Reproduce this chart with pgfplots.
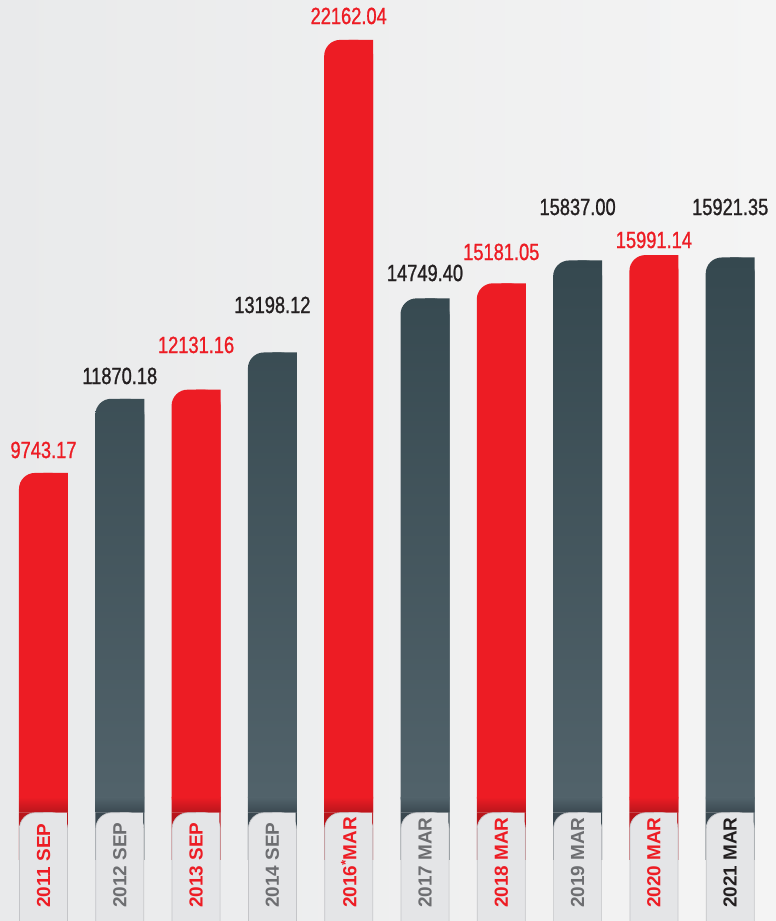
\documentclass[border=0pt]{standalone}
\usepackage{fontspec}
\setmainfont{Liberation Sans}
\newfontfamily\numfont[FakeStretch=0.78,FakeBold=1]{Liberation Sans}
\usepackage{pgfplots}
\pgfplotsset{compat=1.18}
\definecolor{cred}{HTML}{ED1C24}
\definecolor{cred2}{HTML}{B8151B}
\definecolor{dtop}{HTML}{35484F}
\definecolor{dbot}{HTML}{52636B}
\definecolor{dbot2}{HTML}{3A4850}
\definecolor{cgrey}{HTML}{6D6E71}
\definecolor{cblack}{HTML}{231F20}
\definecolor{bgL}{HTML}{E9EAEB}
\definecolor{bgR}{HTML}{F4F4F4}
\definecolor{tabA}{HTML}{E4E5E7}
\definecolor{tabB}{HTML}{F8F8F8}
\definecolor{tabE}{HTML}{C4C5C8}
\begin{document}
\begin{tikzpicture}
\begin{axis}[
  scale only axis, width=776bp, height=921bp,
  xmin=-0.570, xmax=9.600, ymin=-3106, ymax=23306,
  xtick=\empty, ytick=\empty,
  axis line style={draw=none},
  axis background/.style={left color=bgL, right color=bgR},
]
% ---- red bars
\addplot[ybar, bar width=49bp, bar shift=0pt, fill=cred, draw=none, rounded corners=16bp]
  coordinates {(0,9743.17) (2,12131.16) (4,22162.04) (6,15181.05) (8,15991.14)};
\addplot[ybar, bar width=24.5bp, bar shift=12.25bp, fill=cred, draw=none]
  coordinates {(0,9743.17) (2,12131.16) (4,22162.04) (6,15181.05) (8,15991.14)};
% ---- dark bars
\addplot[ybar, bar width=49bp, bar shift=0pt, top color=dtop, bottom color=dbot, draw=none, rounded corners=16bp]
  coordinates {(1,11870.18) (3,13198.12) (5,14749.40) (7,15837.00) (9,15921.35)};
\addplot[ybar, bar width=24.5bp, bar shift=12.25bp, top color=dtop, bottom color=dbot, draw=none]
  coordinates {(1,11870.18) (3,13198.12) (5,14749.40) (7,15837.00) (9,15921.35)};
% ---- shadows above tabs
\addplot[ybar, bar width=49bp, bar shift=0pt, top color=cred, bottom color=cred2, draw=none]
  coordinates {(0,450) (2,450) (4,450) (6,450) (8,450)};
\addplot[ybar, bar width=49bp, bar shift=0pt, top color=dbot, bottom color=dbot2, draw=none]
  coordinates {(1,450) (3,450) (5,450) (7,450) (9,450)};
% ---- extensions below zero
\addplot[ybar, bar width=49bp, bar shift=0pt, fill=cred2, draw=none]
  coordinates {(0,-1356) (2,-1356) (4,-1356) (6,-1356) (8,-1356)};
\addplot[ybar, bar width=49bp, bar shift=0pt, fill=dbot2, draw=none]
  coordinates {(1,-1356) (3,-1356) (5,-1356) (7,-1356) (9,-1356)};
% ---- tabs
\addplot[ybar, bar width=48bp, bar shift=0pt, top color=tabA, middle color=tabB, bottom color=tabA, draw=tabE, line width=0.7bp, rounded corners=16bp]
  coordinates {(0,-3700) (1,-3700) (2,-3700) (3,-3700) (4,-3700) (5,-3700) (6,-3700) (7,-3700) (8,-3700) (9,-3700)};
\addplot[ybar, bar width=23.3bp, bar shift=11.65bp, top color=tabA, middle color=tabB, bottom color=tabA, draw=none]
  coordinates {(0,-3700) (1,-3700) (2,-3700) (3,-3700) (4,-3700) (5,-3700) (6,-3700) (7,-3700) (8,-3700) (9,-3700)};
% ---- category labels
\addplot[draw=none, mark=none, nodes near coords, point meta=explicit symbolic,
  nodes near coords align={anchor=west},
  every node near coord/.append style={rotate=90, inner sep=0pt, text=cred, font=\bfseries\fontsize{19}{19}\selectfont}]
  coordinates {(0,-2733)[2011 SEP] (2,-2733)[2013 SEP] (4,-2733)[{2016\textsuperscript{*}MAR}] (6,-2733)[2018 MAR] (8,-2733)[2020 MAR]};
\addplot[draw=none, mark=none, nodes near coords, point meta=explicit symbolic,
  nodes near coords align={anchor=west},
  every node near coord/.append style={rotate=90, inner sep=0pt, text=cgrey, font=\bfseries\fontsize{19}{19}\selectfont}]
  coordinates {(1,-2733)[2012 SEP] (3,-2733)[2014 SEP] (5,-2733)[2017 MAR] (7,-2733)[2019 MAR]};
\addplot[draw=none, mark=none, nodes near coords, point meta=explicit symbolic,
  nodes near coords align={anchor=west},
  every node near coord/.append style={rotate=90, inner sep=0pt, text=cblack, font=\bfseries\fontsize{19}{19}\selectfont}]
  coordinates {(9,-2733)[2021 MAR]};
% ---- value labels
\addplot[draw=none, mark=none, nodes near coords, point meta=explicit symbolic,
  nodes near coords align={anchor=center},
  every node near coord/.append style={inner sep=0pt, text=cred, font=\numfont\fontsize{23.5}{23.5}\selectfont}]
  coordinates {(0,10401)[9743.17] (2,13413)[12131.16] (4,22848)[22162.04] (6,16080)[15181.05] (8,16424)[15991.14]};
\addplot[draw=none, mark=none, nodes near coords, point meta=explicit symbolic,
  nodes near coords align={anchor=center},
  every node near coord/.append style={inner sep=0pt, text=cblack, font=\numfont\fontsize{23.5}{23.5}\selectfont}]
  coordinates {(1,12524)[11870.18] (3,14560)[13198.12] (5,15477)[14749.40] (7,17370)[15837.00] (9,17370)[15921.35]};
\end{axis}
\end{tikzpicture}
\end{document}
